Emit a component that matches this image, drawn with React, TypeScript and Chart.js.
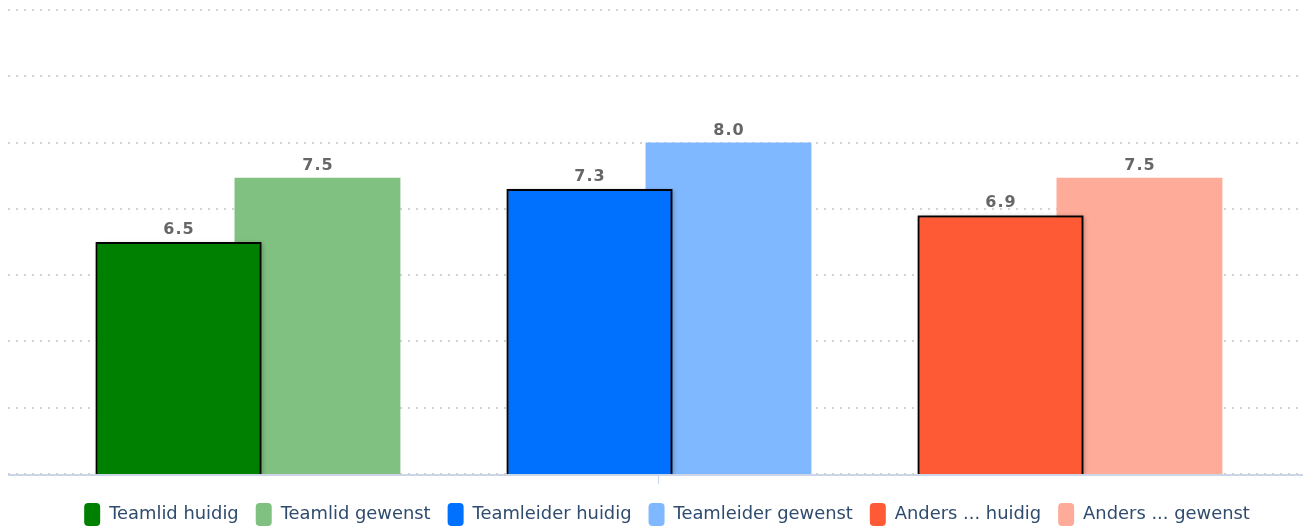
import React, { useEffect, useRef } from "react";
import { Chart, registerables } from "chart.js";

Chart.register(...registerables);

const categories = ["Teamlid", "Teamleider", "Anders ..."];
const huidigNames = ["Teamlid huidig", "Teamleider huidig", "Anders ... huidig"];
const gewenstNames = ["Teamlid gewenst", "Teamleider gewenst", "Anders ... gewenst"];
const huidigValues = [6.5, 7.3, 6.9];
const gewenstValues = [7.47, 8.0, 7.47];
const huidigColors = ["#008000", "#0070ff", "#ff5a36"];
const gewenstColors = ["#80c080", "#80b8ff", "#ffab99"];
const yTicks = [3, 4, 5, 6, 7, 8, 9, 10];

const LEGEND_COLOR = "#2f4b6e";

function buildDatasets() {
  const ds: any[] = [];
  categories.forEach((_, i) => {
    const h = categories.map((__, j) => (j === i ? huidigValues[i] : null));
    const g = categories.map((__, j) => (j === i ? gewenstValues[i] : null));
    ds.push({
      label: huidigNames[i],
      data: h,
      backgroundColor: huidigColors[i],
      borderColor: "#000000",
      borderWidth: 2,
      skipNull: true,
      barPercentage: 1.194,
      categoryPercentage: 0.676,
    });
    ds.push({
      label: gewenstNames[i],
      data: g,
      backgroundColor: gewenstColors[i],
      borderWidth: 0,
      skipNull: true,
      barPercentage: 1.194,
      categoryPercentage: 0.676,
    });
  });
  return ds;
}

const gridPlugin = {
  id: "fullGrid",
  afterLayout(chart: any) {
    if (chart.legend) {
      chart.legend.left += 16;
    }
  },
  beforeDatasetsDraw(chart: any) {
    const { ctx, width } = chart;
    const y = chart.scales.y;
    const x = chart.scales.x;
    ctx.save();
    // axis line
    const base = Math.round(y.getPixelForValue(yTicks[0]));
    ctx.strokeStyle = "#ccd6eb";
    ctx.lineWidth = 2;
    ctx.beginPath();
    ctx.moveTo(0, base + 1);
    ctx.lineTo(width, base + 1);
    ctx.stroke();
    // tick mark at center
    const cx = Math.round((x.left + x.right) / 2) - 0.5;
    ctx.lineWidth = 1;
    ctx.beginPath();
    ctx.moveTo(cx, base + 2);
    ctx.lineTo(cx, base + 10);
    ctx.stroke();
    // dotted gridlines
    ctx.strokeStyle = "#d2d2d2";
    ctx.lineWidth = 2;
    ctx.setLineDash([2, 6]);
    yTicks.forEach((v) => {
      const py = Math.round(y.getPixelForValue(v));
      ctx.beginPath();
      ctx.moveTo(0, py);
      ctx.lineTo(width, py);
      ctx.stroke();
    });
    ctx.restore();
  },
  beforeDatasetDraw(chart: any, args: any) {
    const ds = chart.data.datasets[args.index];
    if (!ds.borderWidth) return;
    const { ctx, chartArea } = chart;
    const meta = chart.getDatasetMeta(args.index);
    ctx.save();
    ctx.beginPath();
    ctx.rect(0, 0, chart.width, chartArea.bottom);
    ctx.clip();
    ctx.shadowColor = "rgba(0,0,0,0.35)";
    ctx.shadowBlur = 4;
    ctx.shadowOffsetX = 2;
    ctx.shadowOffsetY = 1;
    ctx.fillStyle = "rgba(0,0,0,0.6)";
    meta.data.forEach((el: any, i: number) => {
      if (ds.data[i] == null) return;
      const p = el.getProps(["x", "y", "base", "width"], true);
      const bottom = Math.min(p.base, chartArea.bottom);
      ctx.fillRect(p.x - p.width / 2, p.y, p.width, bottom - p.y);
    });
    ctx.restore();
  },
  afterDatasetsDraw(chart: any) {
    const { ctx } = chart;
    ctx.save();
    ctx.font = 'bold 16px "DejaVu Sans"';
    (ctx as any).letterSpacing = "1px";
    ctx.fillStyle = "#666666";
    ctx.textAlign = "center";
    ctx.textBaseline = "alphabetic";
    chart.data.datasets.forEach((ds: any, di: number) => {
      const meta = chart.getDatasetMeta(di);
      meta.data.forEach((el: any, i: number) => {
        const v = ds.data[i];
        if (v == null) return;
        const p = el.getProps(["x", "y"], true);
        ctx.fillText(Number(v).toFixed(1), p.x + 0.5, p.y - 8);
      });
    });
    ctx.restore();
  },
};

export default function App() {
  const ref = useRef<HTMLCanvasElement | null>(null);
  useEffect(() => {
    document.documentElement.style.overflow = "hidden";
    document.body.style.overflow = "hidden";
    const chart = new Chart(ref.current as HTMLCanvasElement, {
      type: "bar",
      data: { labels: categories, datasets: buildDatasets() },
      options: {
        animation: false,
        responsive: true,
        maintainAspectRatio: false,
        layout: { padding: { left: 34.5, right: 27.5, top: 2, bottom: 1 } },
        scales: {
          x: {
            type: "category",
            display: true,
            ticks: { display: false },
            grid: {
              display: true,
              drawOnChartArea: false,
              drawTicks: true,
              tickLength: 12,
              color: "rgba(0,0,0,0)",
            },
            border: { display: false },
          },
          y: {
            display: false,
            min: 3,
            max: 10,
            ticks: { stepSize: 1 },
          },
        },
        plugins: {
          tooltip: { enabled: false },
          legend: {
            display: true,
            position: "bottom",
            labels: {
              font: { family: "DejaVu Sans", size: 17.9 },
              color: LEGEND_COLOR,
              boxWidth: 16,
              boxHeight: 23,
              padding: 17,
              generateLabels: (c: any) =>
                c.data.datasets.map((d: any, i: number) => ({
                  text: d.label,
                  fillStyle: d.backgroundColor,
                  strokeStyle: d.backgroundColor,
                  lineWidth: 0,
                  hidden: !c.isDatasetVisible(i),
                  datasetIndex: i,
                  borderRadius: 4,
                  fontColor: LEGEND_COLOR,
                })),
            },
          },
        },
      },
      plugins: [gridPlugin],
    } as any);
    return () => chart.destroy();
  }, []);
  return (
    <div style={{ position: "relative", width: "100%", height: "529px" }}>
      <canvas ref={ref} />
    </div>
  );
}
